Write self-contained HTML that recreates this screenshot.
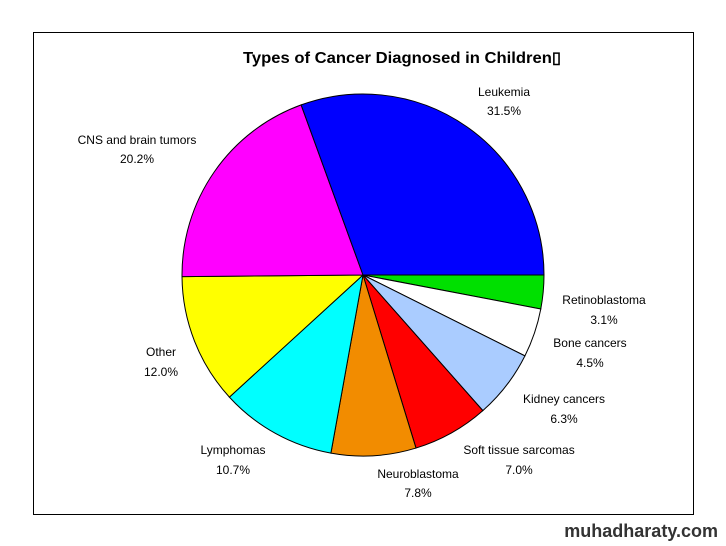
<!DOCTYPE html>
<html><head><meta charset="utf-8"><style>
body{margin:0;background:#fff;width:726px;height:546px;overflow:hidden}
svg{display:block}
text{font-family:"Liberation Sans",Arial,sans-serif}
</style></head><body>
<svg id="s" width="726" height="546" xmlns="http://www.w3.org/2000/svg">
<rect x="33.5" y="32.5" width="660" height="482" fill="#fff" stroke="#000" stroke-width="1"/>
<text x="243" y="63" font-size="16" font-weight="bold" fill="#000" textLength="318" lengthAdjust="spacingAndGlyphs">Types of Cancer Diagnosed in Children▯</text>
<g id="pie"></g>
<g font-size="12" fill="#000" text-anchor="middle">
<text x="504" y="96">Leukemia</text><text x="504" y="115">31.5%</text>
<text x="137" y="144">CNS and brain tumors</text><text x="137" y="163">20.2%</text>
<text x="604" y="304">Retinoblastoma</text><text x="604" y="324">3.1%</text>
<text x="590" y="347">Bone cancers</text><text x="590" y="367">4.5%</text>
<text x="564" y="403">Kidney cancers</text><text x="564" y="423">6.3%</text>
<text x="519" y="454">Soft tissue sarcomas</text><text x="519" y="474">7.0%</text>
<text x="418" y="478">Neuroblastoma</text><text x="418" y="497">7.8%</text>
<text x="233" y="454">Lymphomas</text><text x="233" y="474">10.7%</text>
<text x="161" y="356">Other</text><text x="161" y="376">12.0%</text>
</g>
<text x="718" y="537" font-size="18" font-weight="bold" fill="#333" text-anchor="end">muhadharaty.com</text>
</svg>
<script>
var cx=363,cy=275,r=181;
var d=[[3.1,"#00e000"],[4.5,"#ffffff"],[6.3,"#aaccff"],[7.0,"#ff0000"],[7.8,"#f28c00"],[10.7,"#00ffff"],[12.0,"#ffff00"],[20.2,"#ff00ff"],[31.5,"#0000ff"]];
var tot=0;d.forEach(function(x){tot+=x[0]});
var a=0,g=document.getElementById("pie"),h="";
d.forEach(function(x){
 var b=a+x[0]/tot*2*Math.PI;
 var x1=cx+r*Math.cos(a),y1=cy+r*Math.sin(a),x2=cx+r*Math.cos(b),y2=cy+r*Math.sin(b);
 h+='<path d="M'+cx+','+cy+'L'+x1+','+y1+'A'+r+','+r+' 0 '+((b-a)>Math.PI?1:0)+' 1 '+x2+','+y2+'Z" fill="'+x[1]+'" stroke="#000" stroke-width="1"/>';
 a=b;});
g.innerHTML=h;
</script>
</body></html>
